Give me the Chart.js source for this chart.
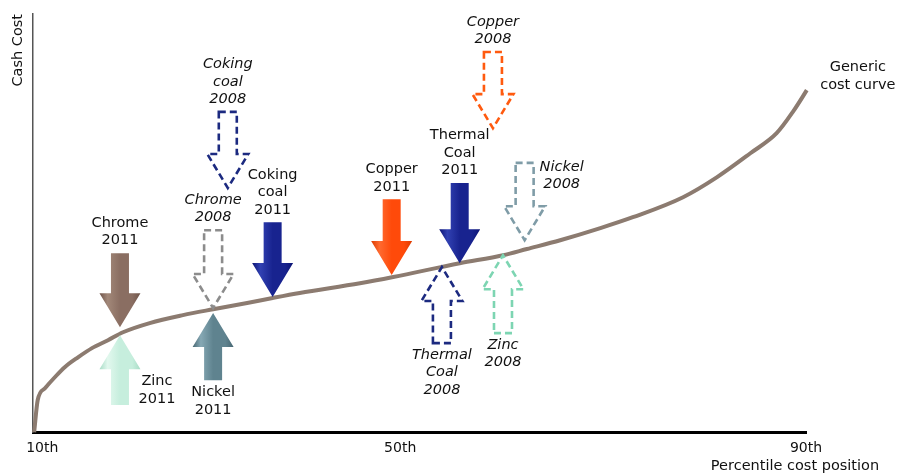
<!DOCTYPE html>
<html>
<head>
<meta charset="utf-8">
<script src="https://cdn.jsdelivr.net/npm/chart.js@4"></script>
<style>
  html, body { margin: 0; padding: 0; background: #fff; }
</style>
</head>
<body>
<canvas id="myChart" width="899" height="474"></canvas>
<script>
// generic cost curve: x = position along the percentile axis (% of its length), y = cash cost (index)
const curveX = [0.15, 0.61, 1.55, 2.85, 4.14, 5.82, 7.63, 9.7, 11.64, 15.1, 19.4, 23.3, 27.7, 31.0, 34.5,
  42.3, 46.6, 55.2, 60.8, 63.9, 68.2, 73.4, 77.6, 84.1, 88.5, 92.8, 96.2, 98.3, 100.1, 101.4];
const curveY = [0, 7.7, 10.5, 13.2, 15.6, 17.9, 20.1, 22.0, 23.9, 26.1, 28.0, 29.4, 30.9, 32.1, 33.3,
  35.6, 37.1, 40.4, 42.3, 43.8, 45.9, 48.8, 51.4, 56.2, 61.0, 66.7, 71.5, 76.6, 81.8, 85.9];

const xTickPos = [1.2, 47.5, 100];
const xTickLabels = ['10th', '50th', '90th'];

// arrows: commodity, year, x position, tail value, tip value
const arrowNames = ['Chrome', 'Zinc', 'Chrome', 'Nickel', 'Coking coal', 'Coking coal',
  'Copper', 'Thermal Coal', 'Thermal Coal', 'Copper', 'Nickel', 'Zinc'];
const arrowYears = [2011, 2011, 2008, 2011, 2011, 2008, 2011, 2011, 2008, 2008, 2008, 2008];
const arrowX = [11.25, 11.25, 23.3, 23.3, 31.0, 25.2, 46.4, 55.2, 52.9, 59.5, 63.6, 60.8];
const arrowFrom = [42.8, 6.5, 48.3, 12.4, 50.2, 76.6, 55.7, 59.6, 21.3, 90.9, 64.4, 23.7];
const arrowTo = [25.1, 23.2, 29.7, 28.5, 32.3, 58.4, 37.6, 40.4, 39.5, 72.7, 45.9, 42.3];

const FONT = "'DejaVu Sans', Verdana, sans-serif";

// styles per arrow (same order as the arrays above)
const arrowStyles = [
  { base: '#8A6E62', light: '#A28879', dark: '#6E5449' },
  { base: '#C6EEDD', light: '#E2F8EE', dark: '#A8DCC6', side: true },
  { dashed: '#8C8C8C' },
  { base: '#5F838F', light: '#86A8B4', dark: '#486772' },
  { base: '#18238F', light: '#3141B2', dark: '#0C1474' },
  { dashed: '#1C2A80' },
  { base: '#FF4A0A', light: '#FF6A30', dark: '#DC3C00' },
  { base: '#18238F', light: '#3141B2', dark: '#0C1474' },
  { dashed: '#1C2A80' },
  { dashed: '#FF5A0F' },
  { dashed: '#7F9CA7', side: true },
  { dashed: '#7DD5B2' },
];

function labelLines(i) {
  return [...arrowNames[i].split(' '), String(arrowYears[i])];
}

const arrowPlugin = {
  id: 'arrows',
  afterDatasetsDraw(chart) {
    const { ctx, scales: { x, y } } = chart;
    const lh = 17.5;
    arrowNames.forEach((name, i) => {
      const st = arrowStyles[i];
      const px = x.getPixelForValue(arrowX[i]);
      const yTail = y.getPixelForValue(arrowFrom[i]);
      const yTip = y.getPixelForValue(arrowTo[i]);
      const down = yTip > yTail;
      const bw = 9, hw = 20.5;
      const yNeck = yTip + (down ? -34 : 34);

      ctx.save();
      ctx.beginPath();
      ctx.moveTo(px - bw, yTail);
      ctx.lineTo(px + bw, yTail);
      ctx.lineTo(px + bw, yNeck);
      ctx.lineTo(px + hw, yNeck);
      ctx.lineTo(px, yTip);
      ctx.lineTo(px - hw, yNeck);
      ctx.lineTo(px - bw, yNeck);
      ctx.closePath();
      if (st.dashed) {
        ctx.setLineDash([7, 4]);
        ctx.lineWidth = 2.6;
        ctx.strokeStyle = st.dashed;
        ctx.stroke();
      } else {
        const g = ctx.createLinearGradient(px - hw, 0, px + hw, 0);
        g.addColorStop(0, st.dark);
        g.addColorStop(0.2, st.light);
        g.addColorStop(0.5, st.base);
        g.addColorStop(0.8, st.base);
        g.addColorStop(1, st.dark);
        ctx.fillStyle = g;
        ctx.fill();
      }
      ctx.restore();

      // label
      const lines = labelLines(i);
      ctx.save();
      ctx.font = (arrowYears[i] === 2008 ? 'italic ' : '') + '14.5px ' + FONT;
      ctx.fillStyle = '#111';
      ctx.textAlign = 'center';
      ctx.textBaseline = 'middle';
      let lx = px, first;
      if (st.side) {
        lx = px + 37;
        first = down ? yTail + 4 : yTail - 6 - (lines.length - 1) * lh;
      } else {
        first = down ? yTail - 12.5 - (lines.length - 1) * lh : yTail + 12;
      }
      lines.forEach((t, k) => ctx.fillText(t, lx, first + k * lh));
      ctx.restore();
    });

    // curve label and axis title
    ctx.save();
    ctx.font = '14.5px ' + FONT;
    ctx.fillStyle = '#111';
    ctx.textAlign = 'center';
    ctx.textBaseline = 'middle';
    const last = chart.getDatasetMeta(0).data.at(-1);
    ctx.fillText('Generic', last.x + 41, last.y - 6);
    ctx.fillText('cost curve', last.x + 41, last.y + 12);
    ctx.fillText('Percentile cost position', chart.chartArea.right - 11, chart.height - 8);
    ctx.restore();
  }
};

const ctx = document.getElementById('myChart');
const myChart = new Chart(ctx, {
  type: 'line',
  data: {
    datasets: [
      {
        label: 'Generic cost curve',
        data: curveX.map((v, i) => ({ x: v, y: curveY[i] })),
        borderColor: '#8C7B70',
        borderWidth: 4,
        pointRadius: 0,
        cubicInterpolationMode: 'monotone',
        fill: false,
        clip: false,
      },
    ],
  },
  options: {
    responsive: false,
    animation: false,
    layout: { padding: { left: 7.6, top: 14, right: 93, bottom: 9 } },
    plugins: { legend: { display: false }, tooltip: { enabled: false } },
    scales: {
      x: {
        type: 'linear',
        min: 0,
        max: 100,
        afterBuildTicks: (s) => { s.ticks = xTickPos.map((v) => ({ value: v })); },
        ticks: {
          callback: (v, i) => xTickLabels[i],
          font: { family: FONT, size: 14 },
          color: '#111',
          padding: 8,
          maxRotation: 0,
          autoSkip: false,
        },
        grid: { display: false, drawTicks: false },
        border: { display: true, color: '#000', width: 3 },
      },
      y: {
        min: 0,
        max: 100,
        ticks: { display: false },
        grid: { display: false, drawTicks: false },
        border: { display: true, color: '#555', width: 1.5 },
        title: {
          display: true,
          text: 'Cash Cost',
          align: 'end',
          color: '#111',
          font: { family: FONT, size: 14.5 },
          padding: { top: 2, bottom: 6 },
        },
      },
    },
  },
  plugins: [arrowPlugin],
});
</script>
</body>
</html>
